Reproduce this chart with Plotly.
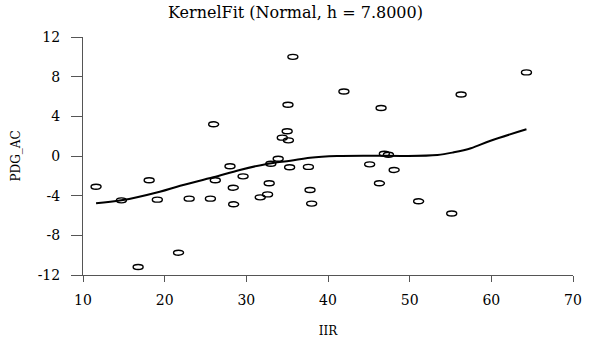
import plotly.graph_objects as go

# Scatter data (IIR vs PDG_AC)
iir = [11.6, 14.7, 16.75, 18.1, 19.1, 21.7, 23.0, 25.6, 26.0, 26.2, 28.0, 28.4, 28.45,
       29.6, 31.7, 32.6, 32.8, 33.0, 33.9, 34.4, 35.0, 35.1, 35.15, 35.3, 35.7, 37.6,
       37.8, 38.0, 41.95, 45.1, 46.3, 46.5, 46.9, 47.4, 48.1, 51.1, 55.15, 56.3, 64.3]
pdg = [-3.1, -4.47, -11.2, -2.45, -4.4, -9.75, -4.3, -4.3, 3.2, -2.45, -1.04, -3.2, -4.87,
       -2.05, -4.17, -3.87, -2.75, -0.78, -0.27, 1.85, 2.49, 5.17, 1.58, -1.14, 10.0, -1.1,
       -3.43, -4.8, 6.5, -0.84, -2.75, 4.84, 0.23, 0.13, -1.41, -4.57, -5.8, 6.2, 8.43]

# Kernel fit curve
fit_x = [11.6, 14.7, 19.4, 21.9, 25.95, 29.2, 32.5, 35.4, 37.8, 41.1, 45.2, 49.3, 53.4,
         55.4, 57.5, 59.9, 64.3]
fit_y = [-4.77, -4.47, -3.6, -3.0, -2.15, -1.41, -0.8, -0.47, -0.17, 0.0, 0.03, 0.0, 0.1,
         0.37, 0.78, 1.54, 2.69]

x_ticks = [10, 20, 30, 40, 50, 60, 70]
y_ticks = [-12, -8, -4, 0, 4, 8, 12]
y_tick_labels = ["-12", "-8", "-4", "0", "4", "8", "12"]

FONT = "DejaVu Serif"

fig = go.Figure()
fig.add_trace(go.Scatter(x=fit_x, y=fit_y, mode="lines", line=dict(color="black", width=2),
                         line_shape="spline", showlegend=False))
fig.add_trace(go.Scatter(x=iir, y=pdg, mode="markers",
                         marker=dict(size=10, color="rgba(0,0,0,0)"), showlegend=False))

shapes = []
for xv, yv in zip(iir, pdg):
    shapes.append(dict(type="circle", xref="x", yref="y", xsizemode="pixel", ysizemode="pixel",
                       xanchor=xv, yanchor=yv, x0=-5, x1=5, y0=-2.5, y1=2.5,
                       line=dict(color="black", width=1.4), fillcolor="rgba(0,0,0,0)"))

fig.update_layout(
    width=591, height=338,
    margin=dict(l=83, r=18, t=37, b=63),
    paper_bgcolor="white", plot_bgcolor="white",
    font=dict(family=FONT, size=13, color="black"),
    title=dict(text="KernelFit (Normal, h = 7.8000)", x=0.5, xref="container", xanchor="center",
               y=0.962, yanchor="middle", font=dict(family=FONT, size=16, color="black")),
    shapes=shapes,
    xaxis=dict(range=[10, 70], tickvals=x_ticks, ticks="outside", ticklen=6, tickwidth=1,
               tickcolor="#555", showline=True, linecolor="#555", linewidth=1,
               showgrid=False, zeroline=False, ticklabelstandoff=6, automargin=False,
               title=dict(text="IIR", font=dict(family=FONT, size=12), standoff=19),
               tickfont=dict(family=FONT, size=14)),
    yaxis=dict(range=[-12, 12], tickvals=y_ticks, ticktext=y_tick_labels, ticks="outside",
               ticklen=11, tickwidth=1,
               tickcolor="#555", showline=True, linecolor="#555", linewidth=1,
               showgrid=False, zeroline=False, ticklabelstandoff=8, automargin=False,
               title=dict(text="PDG_AC", font=dict(family=FONT, size=12), standoff=14),
               tickfont=dict(family=FONT, size=14)),
)

fig.write_html("out.html", config={"displayModeBar": False},
               post_script="document.body.style.margin='0';document.body.style.padding='0';")
